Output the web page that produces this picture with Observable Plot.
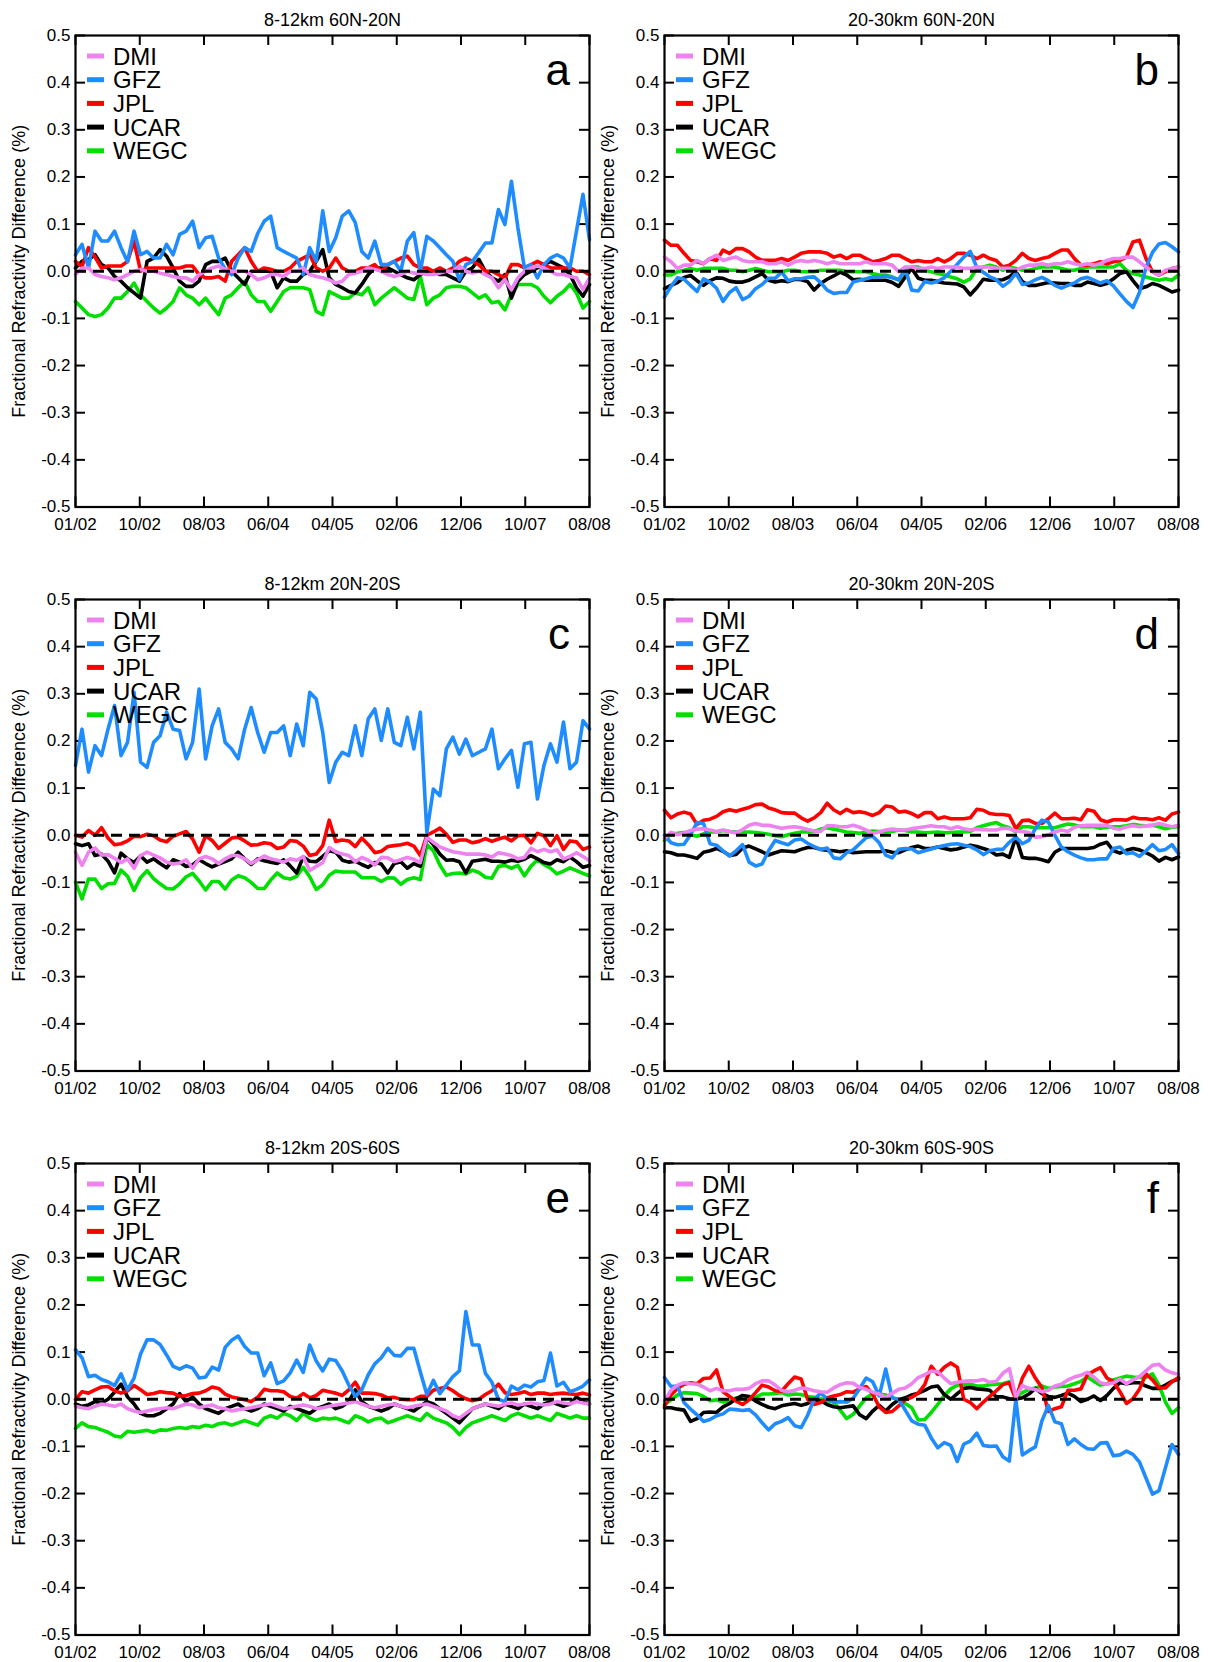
<!DOCTYPE html>
<html><head><meta charset="utf-8">
<script src="https://cdn.jsdelivr.net/npm/d3@7"></script>
<script src="https://cdn.jsdelivr.net/npm/@observablehq/plot@0.6"></script>
<style>
html,body{margin:0;padding:0;background:#fff;overflow:hidden;}
#chart{position:relative;width:1208px;height:1662px;overflow:hidden;background:#fff;}
#chart svg{position:absolute;overflow:visible;}
</style></head><body><div id="chart"></div>
<script>
// month index: 0 = 01/2002 ... 79 = 08/2008
const months = d3.range(80);
const centers = ["DMI","GFZ","JPL","UCAR","WEGC"];
const colors = {DMI:"#ee82ee", GFZ:"#1e8cff", JPL:"#ff0000", UCAR:"#000000", WEGC:"#00e000"};
const drawOrder = ["WEGC","UCAR","JPL","GFZ","DMI"];
const xTickPos = [0, 9.875, 19.75, 29.625, 39.5, 49.375, 59.25, 69.125, 79];
const xTickLabels = ["01/02","10/02","08/03","06/04","04/05","02/06","12/06","10/07","08/08"];
const yTicks = [-0.5,-0.4,-0.3,-0.2,-0.1,0,0.1,0.2,0.3,0.4,0.5];
const yLabel = "Fractional Refractivity Difference (%)";
const titles = ["8-12km 60N-20N","20-30km 60N-20N","8-12km 20N-20S","20-30km 20N-20S","8-12km 20S-60S","20-30km 60S-90S"];
const letters = ["a","b","c","d","e","f"];

// ---- panel a ----
const a_DMI = [-0.007,0.007,0.007,-0.007,-0.011,-0.014,-0.018,-0.014,-0.007,0.0,
 0.004,0.0,0.0,-0.004,-0.007,-0.011,-0.014,-0.014,-0.021,-0.007,
 0.0,0.007,0.011,0.004,0.0,0.0,0.0,-0.007,-0.018,-0.014,
 -0.007,-0.007,-0.011,0.0,0.0,0.007,-0.007,-0.011,-0.014,-0.018,
 -0.025,-0.021,-0.007,-0.004,0.0,0.007,0.004,0.0,-0.007,-0.011,
 -0.007,0.0,-0.004,-0.004,-0.007,-0.007,-0.004,0.0,0.0,0.011,
 0.0,-0.004,0.0,-0.007,-0.014,-0.035,-0.018,-0.039,-0.014,0.0,
 0.007,0.011,0.007,0.0,-0.007,-0.007,-0.011,-0.014,-0.039,-0.014];
const a_GFZ = [0.035,0.057,0.007,0.085,0.064,0.064,0.085,0.05,0.02,0.085,
 0.035,0.042,0.028,0.028,0.057,0.035,0.078,0.085,0.106,0.05,
 0.071,0.074,0.028,0.005,-0.007,0.028,0.05,0.042,0.08,0.106,
 0.117,0.05,0.042,0.035,0.028,-0.007,0.05,0.021,0.128,0.042,
 0.071,0.117,0.128,0.103,0.042,0.028,0.064,0.014,0.014,0.021,
 0.0,0.064,0.082,0.0,0.074,0.064,0.05,0.035,0.021,-0.018,
 0.014,0.021,0.04,0.06,0.06,0.131,0.099,0.191,0.092,0.007,
 0.014,-0.014,0.014,0.028,0.035,0.028,0.007,0.085,0.163,0.067];
const a_JPL = [0.021,0.01,0.05,0.03,0.007,0.011,0.011,0.011,0.021,0.064,
 0.0,0.007,0.007,0.007,0.007,0.007,0.007,0.011,0.011,-0.007,
 -0.014,-0.014,-0.011,-0.021,0.021,0.035,0.05,0.021,0.0,0.007,
 0.004,0.0,0.0,0.007,0.021,0.028,0.035,0.007,0.0,0.007,
 0.028,0.007,0.0,0.0,0.007,0.007,0.014,0.0,0.014,0.021,
 0.028,0.032,0.014,0.007,0.007,0.0,0.007,0.0,0.007,0.021,
 0.028,0.021,0.014,0.0,0.0,-0.007,-0.014,0.014,0.014,0.007,
 0.014,0.021,0.014,0.007,0.007,0.007,0.007,0.0,0.0,-0.007];
const a_UCAR = [0.007,0.021,0.025,0.035,0.014,0.007,-0.011,-0.021,-0.035,-0.046,
 -0.057,0.021,0.028,0.046,0.032,0.007,-0.021,-0.032,-0.032,-0.021,
 0.014,0.021,0.021,0.028,0.0,-0.014,-0.028,0.0,0.0,0.0,
 0.0,-0.035,-0.014,-0.021,-0.021,-0.007,0.0,0.021,0.046,-0.014,
 -0.028,-0.035,-0.043,-0.046,-0.028,-0.007,0.007,0.007,0.007,0.0,
 -0.007,-0.014,-0.018,-0.007,0.0,0.0,-0.007,-0.007,-0.014,-0.021,
 0.0,0.007,0.025,0.0,-0.014,-0.021,-0.007,-0.057,-0.021,-0.007,
 0.0,0.007,0.014,0.021,0.014,0.007,-0.007,-0.035,-0.053,-0.028];
const a_WEGC = [-0.064,-0.078,-0.092,-0.096,-0.092,-0.078,-0.057,-0.057,-0.043,-0.025,
 -0.05,-0.064,-0.078,-0.089,-0.078,-0.064,-0.035,-0.05,-0.057,-0.071,
 -0.057,-0.075,-0.092,-0.057,-0.05,-0.035,-0.021,-0.05,-0.064,-0.064,
 -0.085,-0.064,-0.043,-0.035,-0.035,-0.035,-0.039,-0.085,-0.092,-0.043,
 -0.05,-0.057,-0.057,-0.046,-0.05,-0.035,-0.071,-0.057,-0.046,-0.035,
 -0.046,-0.057,-0.06,-0.011,-0.071,-0.057,-0.05,-0.035,-0.032,-0.032,
 -0.035,-0.046,-0.057,-0.05,-0.067,-0.064,-0.082,-0.05,-0.028,-0.028,
 -0.028,-0.035,-0.053,-0.067,-0.053,-0.043,-0.028,-0.046,-0.078,-0.064];

// ---- panel b ----
const b_DMI = [0.03,0.02,0.006,0.013,0.013,0.023,0.016,0.027,0.034,0.023,
 0.027,0.03,0.023,0.02,0.02,0.02,0.016,0.016,0.02,0.013,
 0.02,0.023,0.02,0.023,0.02,0.016,0.02,0.016,0.016,0.016,
 0.016,0.02,0.016,0.016,0.016,0.013,-0.001,0.009,0.009,0.006,
 0.006,0.009,0.006,0.009,0.009,0.009,0.006,0.006,0.009,0.009,
 0.009,0.006,0.006,0.006,0.002,0.009,0.013,0.013,0.016,0.013,
 0.016,0.016,0.02,0.016,0.013,0.016,0.013,0.016,0.023,0.027,
 0.027,0.03,0.03,0.02,0.009,-0.001,-0.008,0.002,0.006,0.009];
const b_GFZ = [-0.055,-0.032,-0.014,-0.017,-0.03,-0.043,-0.016,-0.023,-0.036,-0.064,
 -0.045,-0.035,-0.06,-0.053,-0.037,-0.028,-0.015,-0.015,-0.002,-0.02,
 -0.016,-0.016,-0.013,-0.012,-0.024,-0.04,-0.047,-0.045,-0.045,-0.023,
 -0.019,-0.016,-0.012,-0.012,-0.01,-0.014,-0.018,0.005,-0.04,-0.042,
 -0.022,-0.025,-0.021,-0.014,0.0,0.015,0.03,0.042,0.008,-0.002,
 -0.012,-0.018,-0.032,-0.022,-0.004,-0.028,-0.025,-0.018,-0.013,-0.02,
 -0.03,-0.036,-0.03,-0.025,-0.016,-0.013,-0.019,-0.025,-0.02,-0.031,
 -0.048,-0.064,-0.077,-0.045,0.008,0.04,0.058,0.061,0.052,0.041];
const b_JPL = [0.066,0.055,0.055,0.038,0.023,0.02,0.016,0.027,0.023,0.045,
 0.038,0.048,0.048,0.041,0.03,0.023,0.023,0.023,0.027,0.023,
 0.03,0.038,0.041,0.041,0.041,0.038,0.03,0.034,0.027,0.034,
 0.034,0.027,0.02,0.023,0.027,0.034,0.034,0.027,0.02,0.023,
 0.02,0.02,0.027,0.02,0.027,0.038,0.038,0.034,0.027,0.034,
 0.027,0.023,0.009,0.013,0.023,0.038,0.027,0.023,0.027,0.03,
 0.038,0.045,0.045,0.027,0.013,0.013,0.016,0.02,0.016,0.02,
 0.023,0.03,0.062,0.066,0.027,-0.001,-0.008,-0.001,0.006,0.009];
const b_UCAR = [-0.037,-0.03,-0.024,-0.013,-0.009,-0.02,-0.03,-0.02,-0.014,-0.015,
 -0.021,-0.023,-0.023,-0.019,-0.012,-0.005,-0.019,-0.023,-0.02,-0.022,
 -0.017,-0.018,-0.022,-0.04,-0.026,-0.017,-0.01,-0.002,-0.008,-0.018,
 -0.017,-0.019,-0.019,-0.019,-0.019,-0.024,-0.032,-0.012,0.006,-0.015,
 -0.019,-0.019,-0.022,-0.025,-0.026,-0.027,-0.033,-0.05,-0.035,-0.017,
 -0.019,-0.019,-0.018,-0.012,-0.001,-0.022,-0.03,-0.03,-0.027,-0.024,
 -0.025,-0.026,-0.026,-0.03,-0.03,-0.023,-0.026,-0.03,-0.026,-0.016,
 -0.005,-0.001,-0.02,-0.037,-0.033,-0.026,-0.03,-0.037,-0.044,-0.04];
const b_WEGC = [-0.008,-0.008,-0.001,0.002,0.006,0.002,0.006,0.006,0.006,0.006,
 0.002,0.002,-0.001,0.002,0.006,0.002,-0.001,-0.001,-0.001,0.002,
 0.002,-0.001,-0.001,-0.001,0.002,0.002,0.002,0.002,-0.001,-0.001,
 -0.001,-0.001,-0.005,-0.008,-0.008,-0.012,-0.019,0.002,0.009,0.009,
 0.002,-0.001,-0.005,-0.008,-0.012,-0.016,-0.023,-0.016,0.006,0.009,
 0.013,0.009,0.002,0.009,0.006,0.002,0.002,0.006,0.009,0.009,
 0.009,0.006,0.002,0.002,0.006,0.009,0.009,0.009,0.009,0.009,
 0.016,0.002,-0.005,-0.008,-0.012,-0.016,-0.019,-0.016,-0.019,-0.008];

// ---- panel c ----
const c_DMI = [-0.036,-0.064,-0.036,-0.027,-0.042,-0.041,-0.049,-0.058,-0.05,-0.07,
 -0.043,-0.036,-0.042,-0.048,-0.057,-0.061,-0.059,-0.052,-0.07,-0.05,
 -0.045,-0.05,-0.06,-0.05,-0.043,-0.043,-0.05,-0.06,-0.052,-0.044,
 -0.05,-0.053,-0.057,-0.05,-0.053,-0.045,-0.075,-0.066,-0.058,-0.026,
 -0.035,-0.04,-0.043,-0.056,-0.047,-0.053,-0.063,-0.047,-0.048,-0.056,
 -0.052,-0.047,-0.051,-0.058,-0.004,-0.015,-0.025,-0.03,-0.035,-0.037,
 -0.04,-0.04,-0.04,-0.042,-0.046,-0.037,-0.04,-0.043,-0.05,-0.047,
 -0.028,-0.035,-0.03,-0.035,-0.031,-0.05,-0.045,-0.037,-0.045,-0.054];
const c_GFZ = [0.148,0.225,0.134,0.19,0.169,0.225,0.275,0.169,0.197,0.303,
 0.155,0.144,0.197,0.211,0.261,0.225,0.222,0.162,0.197,0.31,
 0.162,0.232,0.268,0.197,0.183,0.162,0.225,0.271,0.218,0.176,
 0.218,0.218,0.232,0.169,0.236,0.19,0.303,0.289,0.218,0.112,
 0.155,0.176,0.169,0.232,0.169,0.247,0.268,0.201,0.268,0.197,
 0.19,0.25,0.183,0.261,0.006,0.098,0.084,0.183,0.208,0.172,
 0.204,0.169,0.176,0.183,0.225,0.141,0.162,0.18,0.102,0.194,
 0.197,0.077,0.148,0.194,0.155,0.24,0.141,0.155,0.243,0.225];
const c_JPL = [0.0,-0.004,0.01,0.0,0.016,-0.006,-0.02,-0.018,-0.012,-0.002,
 -0.003,0.002,-0.001,-0.01,-0.014,-0.002,0.003,0.008,-0.008,-0.036,
 -0.001,-0.011,-0.028,-0.017,-0.006,-0.004,-0.012,-0.021,-0.02,-0.016,
 -0.018,-0.028,-0.025,-0.011,-0.013,-0.023,-0.043,-0.04,-0.022,0.032,
 -0.013,-0.01,-0.012,-0.024,-0.006,-0.02,-0.037,-0.034,-0.024,-0.022,
 -0.02,-0.017,-0.023,-0.043,0.0,0.007,0.015,0.002,-0.015,-0.01,
 -0.01,-0.016,-0.013,-0.007,-0.013,-0.008,-0.004,-0.012,-0.001,0.0,
 -0.016,0.004,-0.001,-0.022,-0.001,-0.03,-0.012,-0.014,-0.03,-0.025];
const c_UCAR = [-0.018,-0.022,-0.018,-0.043,-0.04,-0.055,-0.08,-0.038,-0.05,-0.058,
 -0.044,-0.057,-0.05,-0.06,-0.069,-0.052,-0.057,-0.066,-0.063,-0.052,
 -0.06,-0.067,-0.061,-0.056,-0.05,-0.036,-0.05,-0.062,-0.05,-0.054,
 -0.057,-0.06,-0.052,-0.065,-0.08,-0.046,-0.055,-0.056,-0.045,-0.033,
 -0.036,-0.053,-0.057,-0.055,-0.062,-0.068,-0.058,-0.061,-0.08,-0.06,
 -0.056,-0.07,-0.06,-0.066,-0.004,-0.02,-0.04,-0.053,-0.052,-0.056,
 -0.08,-0.055,-0.053,-0.051,-0.055,-0.055,-0.057,-0.053,-0.055,-0.051,
 -0.043,-0.05,-0.058,-0.061,-0.052,-0.056,-0.046,-0.056,-0.068,-0.064];
const c_WEGC = [-0.1,-0.135,-0.093,-0.093,-0.113,-0.103,-0.102,-0.074,-0.087,-0.117,
 -0.09,-0.075,-0.092,-0.103,-0.113,-0.114,-0.103,-0.088,-0.081,-0.097,
 -0.116,-0.098,-0.098,-0.114,-0.095,-0.086,-0.09,-0.1,-0.113,-0.113,
 -0.095,-0.08,-0.09,-0.093,-0.087,-0.068,-0.088,-0.115,-0.105,-0.085,
 -0.076,-0.078,-0.078,-0.078,-0.09,-0.09,-0.09,-0.098,-0.09,-0.091,
 -0.104,-0.094,-0.09,-0.094,-0.02,-0.033,-0.063,-0.085,-0.081,-0.08,
 -0.082,-0.074,-0.079,-0.089,-0.091,-0.066,-0.064,-0.07,-0.064,-0.086,
 -0.066,-0.052,-0.062,-0.07,-0.082,-0.076,-0.069,-0.075,-0.081,-0.086];

// ---- panel d ----
const d_DMI = [-0.007,0.006,0.001,0.005,0.01,0.013,0.014,0.011,0.008,0.011,
 0.008,0.005,0.012,0.021,0.025,0.021,0.021,0.018,0.015,0.017,
 0.018,0.016,0.012,0.009,0.008,0.02,0.02,0.018,0.018,0.021,
 0.017,0.011,0.004,0.007,0.011,0.013,0.011,0.011,0.014,0.016,
 0.018,0.02,0.018,0.018,0.014,0.018,0.014,0.011,0.013,0.012,
 0.011,0.011,0.015,0.014,0.009,0.008,0.006,-0.004,-0.003,0.001,
 0.007,0.011,0.008,0.017,0.02,0.021,0.021,0.021,0.021,0.015,
 0.013,0.018,0.02,0.018,0.02,0.021,0.025,0.021,0.018,0.021];
const d_GFZ = [0.0,-0.016,-0.02,-0.019,0.001,0.027,0.025,-0.018,-0.021,-0.033,
 -0.044,-0.033,-0.02,-0.057,-0.065,-0.061,-0.033,-0.011,-0.016,-0.02,
 -0.01,-0.008,-0.017,-0.024,-0.03,-0.027,-0.048,-0.05,-0.037,-0.031,
 -0.018,-0.005,-0.002,-0.016,-0.042,-0.048,-0.03,-0.028,-0.029,-0.037,
 -0.033,-0.029,-0.025,-0.022,-0.019,-0.018,-0.021,-0.024,-0.031,-0.041,
 -0.033,-0.03,-0.03,-0.015,-0.004,-0.018,-0.011,0.014,0.032,0.028,
 0.0,-0.025,-0.035,-0.042,-0.048,-0.052,-0.052,-0.05,-0.05,-0.028,
 -0.025,-0.039,-0.037,-0.045,-0.033,-0.02,-0.033,-0.03,-0.02,-0.039];
const d_JPL = [0.053,0.037,0.045,0.049,0.045,0.023,0.032,0.034,0.04,0.05,
 0.054,0.051,0.055,0.059,0.065,0.066,0.058,0.054,0.048,0.047,
 0.047,0.037,0.03,0.037,0.048,0.068,0.054,0.046,0.055,0.048,
 0.05,0.047,0.042,0.048,0.062,0.06,0.049,0.051,0.046,0.039,
 0.048,0.048,0.035,0.039,0.035,0.035,0.035,0.037,0.055,0.053,
 0.046,0.044,0.044,0.042,0.014,0.031,0.032,0.025,0.025,0.035,
 0.047,0.035,0.035,0.036,0.033,0.054,0.051,0.033,0.028,0.033,
 0.033,0.032,0.038,0.035,0.035,0.033,0.037,0.032,0.045,0.049];
const d_UCAR = [-0.035,-0.037,-0.042,-0.042,-0.045,-0.049,-0.036,-0.033,-0.028,-0.034,
 -0.043,-0.041,-0.027,-0.023,-0.029,-0.035,-0.042,-0.037,-0.033,-0.034,
 -0.035,-0.03,-0.026,-0.026,-0.03,-0.032,-0.033,-0.035,-0.033,-0.037,
 -0.036,-0.035,-0.035,-0.035,-0.033,-0.036,-0.037,-0.031,-0.026,-0.023,
 -0.028,-0.028,-0.025,-0.028,-0.031,-0.029,-0.025,-0.021,-0.024,-0.028,
 -0.033,-0.042,-0.04,-0.047,-0.004,-0.047,-0.049,-0.049,-0.052,-0.056,
 -0.036,-0.028,-0.028,-0.028,-0.028,-0.028,-0.026,-0.019,-0.015,-0.033,
 -0.038,-0.032,-0.028,-0.031,-0.037,-0.044,-0.055,-0.047,-0.052,-0.046];
const d_WEGC = [-0.011,0.003,0.004,0.006,0.001,-0.002,0.003,0.007,0.007,0.01,
 0.008,0.007,0.007,0.007,0.006,0.004,0.002,-0.001,-0.003,0.001,
 0.004,0.007,0.007,0.008,0.013,0.016,0.013,0.01,0.007,0.006,
 0.004,0.007,0.009,0.008,0.007,0.008,0.011,0.01,0.007,0.007,
 0.005,0.006,0.007,0.005,0.006,0.007,0.007,0.008,0.016,0.02,
 0.024,0.027,0.02,0.016,0.007,0.018,0.018,0.016,0.016,0.016,
 0.016,0.02,0.024,0.022,0.018,0.018,0.018,0.015,0.017,0.018,
 0.018,0.02,0.023,0.021,0.02,0.021,0.018,0.014,0.017,0.018];

// ---- panel e ----
const e_DMI = [-0.015,-0.018,-0.02,-0.015,-0.01,-0.012,-0.015,-0.01,-0.02,-0.025,
 -0.028,-0.025,-0.022,-0.02,-0.018,-0.02,-0.015,-0.01,-0.012,-0.018,
 -0.015,-0.012,-0.018,-0.02,-0.025,-0.022,-0.02,-0.018,-0.015,-0.012,
 -0.01,-0.015,-0.02,-0.018,-0.015,-0.012,-0.015,-0.02,-0.018,-0.015,
 -0.012,-0.01,-0.008,-0.005,-0.01,-0.015,-0.018,-0.015,-0.012,-0.01,
 -0.015,-0.018,-0.015,-0.012,-0.01,-0.015,-0.02,-0.025,-0.035,-0.04,
 -0.03,-0.02,-0.015,-0.01,-0.012,-0.015,-0.01,-0.008,-0.012,-0.01,
 -0.008,-0.01,-0.012,-0.01,-0.005,-0.008,-0.01,-0.005,-0.008,-0.01];
const e_GFZ = [0.105,0.088,0.048,0.051,0.042,0.037,0.029,0.054,0.02,0.045,
 0.096,0.126,0.126,0.116,0.094,0.07,0.064,0.071,0.066,0.045,
 0.047,0.068,0.062,0.11,0.125,0.134,0.112,0.098,0.098,0.05,
 0.077,0.033,0.039,0.056,0.083,0.057,0.115,0.081,0.06,0.085,
 0.082,0.06,0.03,0.006,0.02,0.052,0.075,0.088,0.108,0.093,
 0.092,0.108,0.108,0.058,0.01,0.04,0.012,0.03,0.048,0.06,
 0.186,0.115,0.115,0.055,0.036,0.0,-0.005,0.028,0.02,0.03,
 0.026,0.037,0.04,0.098,0.028,0.036,0.016,0.021,0.028,0.041];
const e_JPL = [-0.001,0.016,0.013,0.02,0.026,0.027,0.018,0.013,0.018,0.029,
 0.02,0.01,0.012,0.016,0.014,0.013,0.006,0.008,0.012,0.013,
 0.018,0.026,0.023,0.011,0.005,0.002,-0.001,-0.005,0.004,0.021,
 0.018,0.018,0.016,0.006,0.002,0.012,0.003,0.008,0.019,0.016,
 0.013,0.008,0.02,0.036,0.013,0.013,0.012,0.009,0.003,0.004,
 0.0,-0.001,-0.001,0.006,0.006,0.019,0.023,0.026,0.018,0.008,
 0.001,-0.003,0.0,0.01,0.018,0.032,0.014,0.01,0.012,0.016,
 0.01,0.013,0.013,0.01,0.012,0.013,0.011,0.01,0.013,0.009];
const e_UCAR = [-0.01,-0.015,-0.012,-0.005,-0.008,0.0,0.015,0.032,0.005,-0.01,
 -0.03,-0.035,-0.035,-0.03,-0.02,-0.01,0.012,-0.005,0.005,-0.01,
 -0.02,-0.025,-0.03,-0.02,-0.015,-0.01,-0.02,-0.025,-0.02,-0.01,
 -0.015,-0.02,-0.025,-0.015,-0.02,-0.025,-0.03,-0.02,-0.015,-0.01,
 -0.02,-0.015,-0.005,0.02,-0.005,-0.015,-0.02,-0.025,-0.02,-0.01,
 -0.015,-0.02,-0.025,-0.015,-0.005,-0.01,-0.02,-0.03,-0.04,-0.05,
 -0.035,-0.02,-0.015,-0.01,-0.015,-0.02,-0.01,-0.015,-0.02,-0.01,
 -0.015,-0.02,-0.01,-0.005,-0.01,-0.015,-0.01,0.005,-0.005,-0.01];
const e_WEGC = [-0.062,-0.05,-0.058,-0.06,-0.065,-0.07,-0.078,-0.08,-0.068,-0.07,
 -0.068,-0.066,-0.07,-0.065,-0.066,-0.062,-0.06,-0.062,-0.058,-0.06,
 -0.055,-0.058,-0.052,-0.05,-0.055,-0.05,-0.045,-0.05,-0.055,-0.04,
 -0.035,-0.04,-0.03,-0.035,-0.045,-0.03,-0.04,-0.045,-0.04,-0.042,
 -0.04,-0.045,-0.05,-0.035,-0.04,-0.048,-0.042,-0.04,-0.05,-0.045,
 -0.04,-0.035,-0.04,-0.045,-0.03,-0.04,-0.045,-0.05,-0.06,-0.075,
 -0.06,-0.05,-0.045,-0.04,-0.035,-0.04,-0.045,-0.035,-0.03,-0.035,
 -0.04,-0.035,-0.04,-0.045,-0.03,-0.035,-0.04,-0.035,-0.04,-0.04];

// ---- panel f ----
const f_DMI = [-0.004,0.019,0.03,0.035,0.033,0.032,0.026,0.018,0.023,0.018,
 0.018,0.021,0.021,0.023,0.033,0.039,0.039,0.03,0.019,0.016,
 0.019,0.024,0.022,0.018,0.016,0.015,0.024,0.031,0.035,0.034,
 0.025,0.021,0.015,0.011,0.004,0.013,0.021,0.024,0.033,0.046,
 0.052,0.06,0.058,0.045,0.033,0.036,0.038,0.039,0.039,0.042,
 0.036,0.038,0.055,0.065,0.004,0.029,0.023,0.021,0.016,0.019,
 0.028,0.032,0.041,0.047,0.051,0.057,0.047,0.035,0.032,0.035,
 0.043,0.033,0.041,0.048,0.06,0.072,0.074,0.062,0.056,0.053];
const f_GFZ = [0.046,0.027,0.028,-0.007,-0.021,-0.033,-0.047,-0.043,-0.035,-0.031,
 -0.021,-0.022,-0.024,-0.022,-0.033,-0.05,-0.065,-0.052,-0.047,-0.039,
 -0.056,-0.06,-0.034,0.0,0.013,0.001,-0.006,-0.005,-0.006,0.002,
 0.023,0.045,0.037,0.007,0.064,0.003,0.0,-0.023,-0.046,-0.053,
 -0.055,-0.082,-0.103,-0.092,-0.098,-0.132,-0.095,-0.089,-0.072,-0.098,
 -0.1,-0.099,-0.122,-0.131,0.0,-0.118,-0.109,-0.101,-0.046,-0.013,
 -0.048,-0.052,-0.096,-0.084,-0.096,-0.105,-0.106,-0.093,-0.092,-0.12,
 -0.118,-0.11,-0.117,-0.133,-0.167,-0.201,-0.194,-0.145,-0.096,-0.117];
const f_JPL = [-0.014,0.009,0.023,0.032,0.035,0.033,0.044,0.045,0.062,0.016,
 0.006,-0.004,-0.011,-0.001,0.014,0.03,0.026,0.018,0.017,0.033,
 0.047,0.043,0.0,-0.011,-0.007,0.003,0.007,0.01,0.016,0.015,
 0.022,0.027,0.011,-0.016,-0.028,-0.026,-0.014,-0.001,0.004,0.013,
 0.031,0.07,0.053,0.068,0.077,0.068,0.0,-0.007,-0.02,-0.006,
 0.006,0.018,0.031,0.035,0.0,0.045,0.07,0.045,0.025,-0.026,
 -0.02,-0.016,0.019,0.019,0.022,0.052,0.06,0.067,0.045,0.038,
 0.016,-0.009,0.001,0.021,0.054,0.041,0.024,0.024,0.037,0.046];
const f_UCAR = [-0.018,-0.018,-0.021,-0.023,-0.047,-0.041,-0.028,-0.027,-0.028,-0.016,
 -0.009,0.001,0.008,0.006,-0.004,-0.011,-0.017,-0.02,-0.014,-0.011,
 -0.009,-0.013,-0.009,-0.001,-0.003,-0.011,-0.016,-0.018,-0.016,-0.014,
 -0.033,-0.041,-0.025,-0.013,-0.025,-0.011,-0.001,0.003,0.009,0.013,
 0.019,0.026,0.028,0.01,0.0,0.012,0.023,0.025,0.022,0.021,
 0.019,0.005,0.005,0.001,0.0,0.003,0.011,0.023,0.012,0.006,
 0.004,0.008,0.013,0.006,-0.005,0.0,0.007,-0.003,0.008,0.023,
 0.035,0.033,0.035,0.035,0.028,0.023,0.023,0.03,0.038,0.043];
const f_WEGC = [-0.011,-0.001,0.009,0.014,0.013,0.012,0.006,-0.003,-0.001,-0.006,
 -0.004,0.003,0.001,0.0,0.004,0.011,0.011,0.012,0.014,0.009,
 0.011,0.01,0.006,0.004,0.001,-0.003,-0.006,-0.023,-0.041,-0.032,
 -0.014,0.003,0.011,0.011,0.009,0.003,-0.001,-0.009,-0.018,-0.044,
 -0.043,-0.028,-0.011,0.008,0.022,0.03,0.032,0.032,0.028,0.028,
 0.031,0.032,0.033,0.037,0.004,0.014,0.021,0.024,0.028,0.023,
 0.026,0.027,0.028,0.033,0.038,0.047,0.038,0.03,0.033,0.041,
 0.045,0.049,0.047,0.046,0.046,0.054,0.03,-0.006,-0.03,-0.018];

const panels = [
  {DMI:a_DMI, GFZ:a_GFZ, JPL:a_JPL, UCAR:a_UCAR, WEGC:a_WEGC},
  {DMI:b_DMI, GFZ:b_GFZ, JPL:b_JPL, UCAR:b_UCAR, WEGC:b_WEGC},
  {DMI:c_DMI, GFZ:c_GFZ, JPL:c_JPL, UCAR:c_UCAR, WEGC:c_WEGC},
  {DMI:d_DMI, GFZ:d_GFZ, JPL:d_JPL, UCAR:d_UCAR, WEGC:d_WEGC},
  {DMI:e_DMI, GFZ:e_GFZ, JPL:e_JPL, UCAR:e_UCAR, WEGC:e_WEGC},
  {DMI:f_DMI, GFZ:f_GFZ, JPL:f_JPL, UCAR:f_UCAR, WEGC:f_WEGC}
];

const FONT = "'Liberation Sans', Arial, Helvetica, sans-serif";
const PW = 604, PH = 534, ROWSTEP = 564;

function legendAndLetter(letter) {
  return (index, scales, values, dims) => {
    const g = d3.create("svg:g").attr("font-family", FONT).attr("text-anchor", "start");
    centers.forEach((c, i) => {
      const y = dims.marginTop + 21 + i * 23.7;
      g.append("line")
        .attr("x1", dims.marginLeft + 12).attr("x2", dims.marginLeft + 29)
        .attr("y1", y).attr("y2", y)
        .attr("stroke", colors[c]).attr("stroke-width", 5);
      g.append("text")
        .attr("x", dims.marginLeft + 38).attr("y", y).attr("dy", "0.36em")
        .attr("text-anchor", "start")
        .attr("font-size", 24).attr("fill", "black").text(c);
    });
    g.append("text")
      .attr("x", dims.width - dims.marginRight - 19)
      .attr("y", dims.marginTop + 50)
      .attr("text-anchor", "end").attr("font-size", 44).attr("fill", "black")
      .text(letter);
    return g.node();
  };
}

function makePanel(k) {
  const col = k % 2, row = Math.floor(k / 2);
  const left = col === 0;
  const mL = left ? 75 : 60, mR = left ? 15 : 30, mT = 35, mB = 27.5;
  const fw = PW - mL - mR, fh = PH - mT - mB;
  const data = panels[k];
  const marks = [
    Plot.tickY(yTicks, {y: d => d, insetRight: fw - 10, strokeWidth: 2}),
    Plot.tickY(yTicks, {y: d => d, insetLeft: fw - 10, strokeWidth: 2}),
    Plot.tickX(xTickPos, {x: d => d, insetTop: fh - 10, strokeWidth: 2}),
    Plot.tickX(xTickPos, {x: d => d, insetBottom: fh - 10, strokeWidth: 2}),
    ...drawOrder.map(c => Plot.line(months, {x: d => d, y: d => data[c][d], stroke: colors[c], strokeWidth: 3.6, strokeLinejoin: "round"})),
    Plot.ruleY([0], {stroke: "black", strokeWidth: 3, strokeDasharray: "11,7"}),
    Plot.frame({stroke: "black", strokeWidth: 2.2}),
    Plot.axisY(yTicks, {tickSize: 0, tickPadding: 5, tickFormat: d => d.toFixed(1), fontSize: 17, label: null}),
    Plot.axisX(xTickPos, {tickSize: 0, tickPadding: 11, tickFormat: d => xTickLabels[xTickPos.indexOf(d)], fontSize: 17, label: null}),
    Plot.text([titles[k]], {frameAnchor: "top", dy: -22, fontSize: 18, fill: "black"}),
    Plot.text([yLabel], {frameAnchor: "left", textAnchor: "middle", rotate: -90, dx: -56, fontSize: 18, fill: "black"}),
    legendAndLetter(letters[k])
  ];
  const svg = Plot.plot({
    width: PW, height: PH,
    marginLeft: mL, marginRight: mR, marginTop: mT, marginBottom: mB,
    x: {domain: [0, 79]},
    y: {domain: [-0.5, 0.5]},
    style: {fontFamily: FONT, fontSize: "16px", color: "black", background: "transparent", overflow: "visible"},
    marks
  });
  svg.style.left = (col * PW) + "px";
  svg.style.top = (row * ROWSTEP) + "px";
  return svg;
}

const root = document.getElementById("chart");
for (let k = 0; k < 6; k++) root.appendChild(makePanel(k));
</script>
</body></html>
